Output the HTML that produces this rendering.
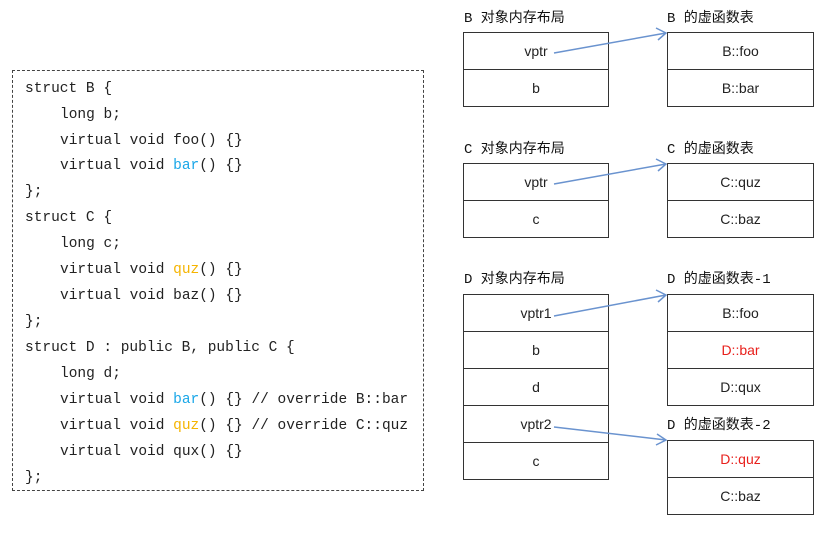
<!DOCTYPE html>
<html><head><meta charset="utf-8"><style>
body{margin:0;width:824px;height:535px;background:#fff;position:relative;overflow:hidden}
.code{position:absolute;left:12px;top:70px;width:412px;height:421px;border:1px dashed #444;box-sizing:border-box}
.l{position:absolute;font:14.5px "Liberation Mono",monospace;color:#222;white-space:pre}
.b{color:#1aa7e8}.y{color:#f5b400}
.lab{position:absolute;font:14px "Liberation Mono","Noto Sans CJK SC",sans-serif;color:#111}
.cell{position:absolute;border:1.5px solid #333;box-sizing:border-box;font:14px "Liberation Sans",sans-serif;color:#222;text-align:center;background:#fff}
.r{color:#e8201c}
</style></head><body>
<div class="code"></div>
<div class="l" style="left:25px;top:81px">struct B {</div>
<div class="l" style="left:60px;top:107px">long b;</div>
<div class="l" style="left:60px;top:133px">virtual void foo() {}</div>
<div class="l" style="left:60px;top:158px">virtual void <span class="b">bar</span>() {}</div>
<div class="l" style="left:25px;top:184px">};</div>
<div class="l" style="left:25px;top:210px">struct C {</div>
<div class="l" style="left:60px;top:236px">long c;</div>
<div class="l" style="left:60px;top:262px">virtual void <span class="y">quz</span>() {}</div>
<div class="l" style="left:60px;top:288px">virtual void baz() {}</div>
<div class="l" style="left:25px;top:314px">};</div>
<div class="l" style="left:25px;top:340px">struct D : public B, public C {</div>
<div class="l" style="left:60px;top:366px">long d;</div>
<div class="l" style="left:60px;top:392px">virtual void <span class="b">bar</span>() {} // override B::bar</div>
<div class="l" style="left:60px;top:418px">virtual void <span class="y">quz</span>() {} // override C::quz</div>
<div class="l" style="left:60px;top:444px">virtual void qux() {}</div>
<div class="l" style="left:25px;top:470px">};</div>

<div class="lab" style="left:464px;top:7px">B 对象内存布局</div>
<div class="lab" style="left:667px;top:7px">B 的虚函数表</div>
<div class="lab" style="left:464px;top:138px">C 对象内存布局</div>
<div class="lab" style="left:667px;top:138px">C 的虚函数表</div>
<div class="lab" style="left:464px;top:268px">D 对象内存布局</div>
<div class="lab" style="left:667px;top:268px">D 的虚函数表-1</div>
<div class="lab" style="left:667px;top:414px">D 的虚函数表-2</div>

<div class="cell" style="left:463px;top:32px;width:146px;height:38px;line-height:36px">vptr</div>
<div class="cell" style="left:463px;top:69px;width:146px;height:38px;line-height:36px">b</div>
<div class="cell" style="left:667px;top:32px;width:147px;height:38px;line-height:36px">B::foo</div>
<div class="cell" style="left:667px;top:69px;width:147px;height:38px;line-height:36px">B::bar</div>

<div class="cell" style="left:463px;top:163px;width:146px;height:38px;line-height:36px">vptr</div>
<div class="cell" style="left:463px;top:200px;width:146px;height:38px;line-height:36px">c</div>
<div class="cell" style="left:667px;top:163px;width:147px;height:38px;line-height:36px">C::quz</div>
<div class="cell" style="left:667px;top:200px;width:147px;height:38px;line-height:36px">C::baz</div>

<div class="cell" style="left:463px;top:294px;width:146px;height:38px;line-height:36px">vptr1</div>
<div class="cell" style="left:463px;top:331px;width:146px;height:38px;line-height:36px">b</div>
<div class="cell" style="left:463px;top:368px;width:146px;height:38px;line-height:36px">d</div>
<div class="cell" style="left:463px;top:405px;width:146px;height:38px;line-height:36px">vptr2</div>
<div class="cell" style="left:463px;top:442px;width:146px;height:38px;line-height:36px">c</div>

<div class="cell" style="left:667px;top:294px;width:147px;height:38px;line-height:36px">B::foo</div>
<div class="cell r" style="left:667px;top:331px;width:147px;height:38px;line-height:36px">D::bar</div>
<div class="cell" style="left:667px;top:368px;width:147px;height:38px;line-height:36px">D::qux</div>
<div class="cell r" style="left:667px;top:440px;width:147px;height:38px;line-height:36px">D::quz</div>
<div class="cell" style="left:667px;top:477px;width:147px;height:38px;line-height:36px">C::baz</div>

<svg width="824" height="535" style="position:absolute;left:0;top:0" fill="none" stroke="#6a93cf" stroke-width="1.5">
<path d="M554 53 L666 33 M656 28 L666 33 L658 40"/>
<path d="M554 184 L666 164 M656 159 L666 164 L658 171"/>
<path d="M554 316 L666 295 M656 290 L666 295 L658 302"/>
<path d="M554 427 L666 440 M657 434 L666 440 L656 445"/>
</svg>
</body></html>
